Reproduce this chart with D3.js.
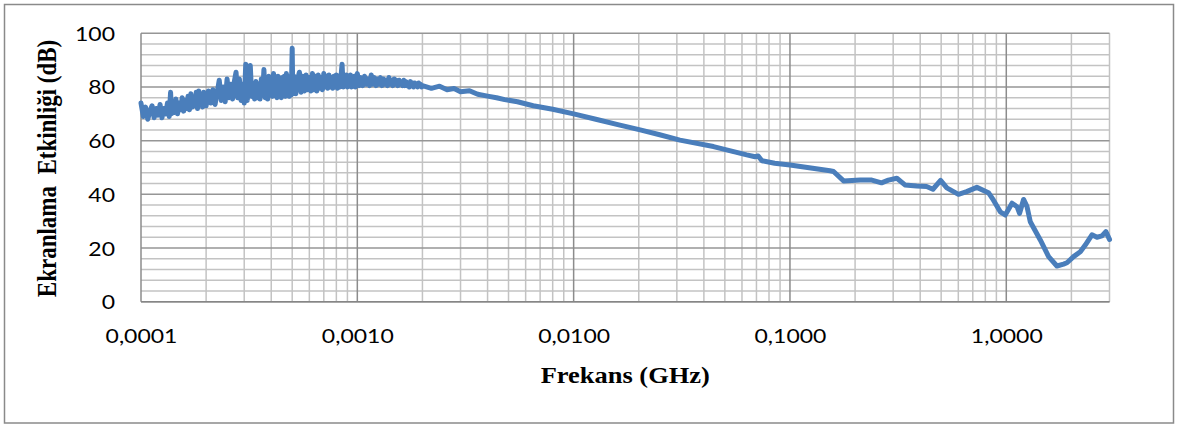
<!DOCTYPE html>
<html>
<head>
<meta charset="utf-8">
<script src="https://cdn.jsdelivr.net/npm/d3@7"></script>
<style>
  html, body { margin: 0; padding: 0; background: #fff; }
  svg { display: block; }
</style>
</head>
<body>
<svg id="chart" width="1180" height="428"></svg>
<script>
// ---------------- DATA ----------------
const freqGHz = [
  // 0.0001 - 0.0002
  1.000e-4, 1.025e-4, 1.050e-4, 1.075e-4, 1.100e-4, 1.125e-4, 1.150e-4, 1.175e-4, 1.200e-4, 1.225e-4,
  1.250e-4, 1.275e-4, 1.300e-4, 1.325e-4, 1.350e-4, 1.370e-4, 1.385e-4, 1.400e-4, 1.425e-4, 1.450e-4,
  1.475e-4, 1.500e-4, 1.525e-4, 1.550e-4, 1.575e-4, 1.600e-4, 1.625e-4, 1.650e-4, 1.675e-4, 1.700e-4,
  1.725e-4, 1.750e-4, 1.775e-4, 1.800e-4, 1.825e-4, 1.850e-4, 1.875e-4, 1.900e-4, 1.925e-4, 1.950e-4,
  // 0.0002 - 0.0005
  2.00e-4, 2.05e-4, 2.10e-4, 2.15e-4, 2.20e-4, 2.25e-4, 2.30e-4, 2.35e-4, 2.40e-4, 2.45e-4,
  2.50e-4, 2.55e-4, 2.60e-4, 2.65e-4, 2.70e-4, 2.75e-4, 2.80e-4, 2.85e-4, 2.90e-4, 2.95e-4,
  3.00e-4, 3.05e-4, 3.10e-4, 3.15e-4, 3.20e-4, 3.25e-4, 3.30e-4, 3.35e-4, 3.40e-4, 3.45e-4,
  3.50e-4, 3.55e-4, 3.60e-4, 3.65e-4, 3.70e-4, 3.75e-4, 3.80e-4, 3.85e-4, 3.90e-4, 3.95e-4,
  4.00e-4, 4.05e-4, 4.10e-4, 4.15e-4, 4.20e-4, 4.25e-4, 4.30e-4, 4.35e-4, 4.40e-4, 4.45e-4,
  4.50e-4, 4.55e-4, 4.60e-4, 4.65e-4, 4.70e-4, 4.75e-4, 4.80e-4, 4.85e-4, 4.90e-4, 4.95e-4,
  5.00e-4, 5.03e-4,
  // 0.0005 - 0.001
  5.1e-4, 5.2e-4, 5.3e-4, 5.4e-4, 5.5e-4, 5.6e-4, 5.7e-4, 5.8e-4, 5.9e-4, 6.0e-4,
  6.1e-4, 6.2e-4, 6.3e-4, 6.4e-4, 6.5e-4, 6.6e-4, 6.7e-4, 6.8e-4, 6.9e-4, 7.0e-4,
  7.1e-4, 7.2e-4, 7.3e-4, 7.4e-4, 7.5e-4, 7.6e-4, 7.7e-4, 7.8e-4, 7.9e-4, 8.0e-4,
  8.1e-4, 8.2e-4, 8.3e-4, 8.4e-4, 8.5e-4, 8.6e-4, 8.7e-4, 8.8e-4, 8.9e-4, 9.0e-4,
  9.1e-4, 9.2e-4, 9.3e-4, 9.4e-4, 9.5e-4, 9.6e-4, 9.7e-4, 9.8e-4, 9.9e-4,
  // 0.001 - 0.002
  1.00e-3, 1.02e-3, 1.04e-3, 1.06e-3, 1.08e-3, 1.10e-3, 1.12e-3, 1.14e-3, 1.16e-3, 1.18e-3,
  1.20e-3, 1.22e-3, 1.24e-3, 1.26e-3, 1.28e-3, 1.30e-3, 1.32e-3, 1.34e-3, 1.36e-3, 1.38e-3,
  1.40e-3, 1.42e-3, 1.44e-3, 1.46e-3, 1.48e-3, 1.50e-3, 1.52e-3, 1.54e-3, 1.56e-3, 1.58e-3,
  1.60e-3, 1.62e-3, 1.64e-3, 1.66e-3, 1.68e-3, 1.70e-3, 1.72e-3, 1.74e-3, 1.76e-3, 1.78e-3,
  1.80e-3, 1.82e-3, 1.84e-3, 1.86e-3, 1.88e-3, 1.90e-3, 1.92e-3, 1.94e-3, 1.96e-3, 1.98e-3,
  // 0.002 - 3 GHz
  2.0e-3, 2.2e-3, 2.4e-3, 2.6e-3, 2.8e-3, 3.0e-3, 3.3e-3, 3.6e-3, 4.0e-3, 4.4e-3,
  4.8e-3, 5.5e-3, 6.5e-3, 8.0e-3, 0.010, 0.0128, 0.016, 0.0203, 0.025, 0.031,
  0.0443, 0.0631, 0.069, 0.0713, 0.0742, 0.085, 0.1, 0.125, 0.153, 0.159,
  0.177, 0.211, 0.239, 0.265, 0.285, 0.312, 0.340, 0.385, 0.428, 0.458,
  0.497, 0.531, 0.601, 0.656, 0.731, 0.827, 0.871, 0.938, 0.989, 1.063,
  1.121, 1.152, 1.202, 1.247, 1.291, 1.436, 1.569, 1.714, 1.840, 1.908,
  2.047, 2.199, 2.318, 2.489, 2.625, 2.769, 2.886, 3.0
];
const shieldingDB = [
  // 0.0001 - 0.0002
  74, 69, 72.5, 68, 71, 73, 68.5, 72, 69.5, 73.5,
  68.5, 72, 70, 74, 69, 78, 70, 73.5, 70.5, 75.5,
  70, 74, 71.5, 76, 71, 75, 72, 76.5, 71.5, 77.5,
  72.5, 76, 73, 78, 72, 78.5, 73.5, 77, 72.5, 78,
  // 0.0002 - 0.0005
  73, 78.5, 74, 79, 73.5, 78, 82.5, 75, 80, 74.5,
  83, 76, 81, 75.5, 82, 85.5, 76, 83, 75, 81,
  74, 88.5, 75, 84, 88, 76.5, 80, 75.5, 82, 76,
  81, 75.5, 83, 77, 86.5, 76, 83, 75.5, 84, 77,
  82, 76.5, 85, 77.5, 83, 76, 84, 77, 82.5, 76,
  83.5, 77.5, 84, 76.5, 85, 77, 83, 76.5, 84, 77,
  94.4, 77.5,
  // 0.0005 - 0.001
  84, 77.5, 83, 85.5, 78, 84, 78.5, 84.5, 79, 83.5,
  78.5, 85, 79, 84, 78.5, 84.5, 79.5, 83.5, 79, 85,
  80, 84, 79.5, 84.5, 80, 83.5, 79.5, 84, 80, 84.5,
  79.5, 84, 80, 83.5, 88.5, 80, 84, 80.5, 84.5, 80,
  84, 80.5, 84.5, 80, 83.5, 80.5, 84, 80, 83.5,
  // 0.001 - 0.002
  85, 80.5, 83.5, 80.5, 84, 81, 83, 80.5, 84.5, 81,
  83.5, 80.5, 83, 81, 83.5, 80.5, 83, 81, 82.5, 80.5,
  83.5, 81, 82.5, 80.5, 83, 81, 82.5, 80.5, 82.5, 81,
  82, 80.5, 82.5, 80.5, 82, 80.5, 81.5, 80, 82, 80.5,
  81.5, 80, 81.5, 80.5, 81, 80, 81.5, 80.5, 81, 80,
  // 0.002 - 3 GHz
  80.5, 79.5, 80.3, 79, 79.4, 78.2, 78.6, 77.3, 76.6, 76.0,
  75.3, 74.5, 73.0, 71.7, 70.0, 67.9, 66.0, 64.0, 62.2, 60.2,
  57.8, 54.7, 54.0, 54.3, 52.5, 51.6, 50.9, 49.8, 48.8, 48.5,
  45.0, 45.3, 45.3, 44.3, 45.3, 46.0, 43.5, 43.1, 42.9, 41.9,
  45.2, 42.4, 40.0, 41.0, 42.6, 40.6, 37.9, 33.5, 32.3, 36.7,
  35.4, 32.9, 38.1, 35.4, 29.8, 23.0, 16.8, 13.3, 14.0, 14.5,
  16.8, 18.6, 21.1, 24.9, 24.0, 24.5, 26.1, 23.2
];
const xTickValues = [0.0001, 0.001, 0.01, 0.1, 1];
const xTickLabels = ["0,0001", "0,0010", "0,0100", "0,1000", "1,0000"];
const yTickValues = [0, 20, 40, 60, 80, 100];
const yTickLabels = ["0", "20", "40", "60", "80", "100"];
const xTitle = "Frekans (GHz)";
const yTitle = "Ekranlama\u00A0 Etkinliği (dB)";

// ---------------- LAYOUT ----------------
const W = 1180, H = 428;
const plot = { left: 141, right: 1109.5, top: 33.3, bottom: 301.7 };
const stretch = 1.15;

const svg = d3.select("#chart");
svg.append("rect").attr("x", 0).attr("y", 0).attr("width", W).attr("height", H).attr("fill", "#fff");
svg.append("rect")
  .attr("x", 4.5).attr("y", 4.5).attr("width", 1169).attr("height", 418.5)
  .attr("fill", "none").attr("stroke", "#8a8a8a").attr("stroke-width", 1.5);

const x = d3.scaleLog().domain([0.0001, 3]).range([plot.left, plot.right]);
const y = d3.scaleLinear().domain([0, 100]).range([plot.bottom, plot.top]);

// grid
const grid = svg.append("g");
const minorY = d3.range(0, 101, 4).filter(v => v % 20 !== 0);
grid.selectAll(".hmin").data(minorY).enter().append("line")
  .attr("x1", plot.left).attr("x2", plot.right)
  .attr("y1", d => y(d)).attr("y2", d => y(d))
  .attr("stroke", "#c3c3c3").attr("stroke-width", 1.5);
const minorX = x.ticks().filter(v => Math.abs(Math.log10(v) - Math.round(Math.log10(v))) > 1e-9);
grid.selectAll(".vmin").data(minorX).enter().append("line")
  .attr("x1", d => x(d)).attr("x2", d => x(d))
  .attr("y1", plot.top).attr("y2", plot.bottom)
  .attr("stroke", "#c3c3c3").attr("stroke-width", 1.5);
grid.selectAll(".hmaj").data(yTickValues).enter().append("line")
  .attr("x1", plot.left).attr("x2", plot.right)
  .attr("y1", d => y(d)).attr("y2", d => y(d))
  .attr("stroke", "#969696").attr("stroke-width", 1.5);
grid.selectAll(".vmaj").data(xTickValues).enter().append("line")
  .attr("x1", d => x(d)).attr("x2", d => x(d))
  .attr("y1", plot.top).attr("y2", plot.bottom)
  .attr("stroke", "#8c8c8c").attr("stroke-width", 1.5);
grid.append("line")
  .attr("x1", plot.left).attr("x2", plot.right)
  .attr("y1", y(0)).attr("y2", y(0))
  .attr("stroke", "#868686").attr("stroke-width", 1.5);

// axes (labels only)
const xAxis = d3.axisBottom(x).tickValues(xTickValues).tickSize(0).tickPadding(0)
  .tickFormat((d, i) => xTickLabels[i]);
const gx = svg.append("g").attr("transform", `translate(0,${plot.bottom})`).call(xAxis);
gx.select(".domain").remove();
gx.selectAll("text")
  .attr("y", 0).attr("dy", null)
  .attr("transform", `translate(0,41) scale(${stretch},1)`)
  .attr("font-family", "Lato, 'Open Sans', sans-serif").attr("font-size", 20).attr("fill", "#000");

const yAxis = d3.axisLeft(y).tickValues(yTickValues).tickSize(0).tickPadding(0)
  .tickFormat((d, i) => yTickLabels[i]);
const gy = svg.append("g").attr("transform", `translate(${plot.left},0)`).call(yAxis);
gy.select(".domain").remove();
gy.selectAll("text")
  .attr("x", 0).attr("dy", null).attr("y", 0)
  .attr("transform", `translate(-26,7) scale(${stretch},1)`)
  .attr("text-anchor", "end")
  .attr("font-family", "Lato, 'Open Sans', sans-serif").attr("font-size", 20).attr("fill", "#000");

// line
const pts = freqGHz.map((f, i) => [f, shieldingDB[i]]);
const line = d3.line().x(d => x(d[0])).y(d => y(d[1]));
svg.append("path").datum(pts)
  .attr("d", line)
  .attr("fill", "none").attr("stroke", "#4a7ebb").attr("stroke-width", 5)
  .attr("stroke-linejoin", "round").attr("stroke-linecap", "round");

// titles
svg.append("text")
  .attr("transform", `translate(${(plot.left + plot.right) / 2},383) scale(${stretch},1)`)
  .attr("text-anchor", "middle")
  .attr("font-family", "'Liberation Serif', 'Times New Roman', serif")
  .attr("font-weight", "bold").attr("font-size", 23).attr("fill", "#000")
  .text(xTitle);
svg.append("text")
  .attr("transform", `translate(56,${(plot.top + plot.bottom) / 2 + 1}) scale(${stretch},1) rotate(-90)`)
  .attr("text-anchor", "middle")
  .attr("font-family", "'Liberation Serif', 'Times New Roman', serif")
  .attr("font-weight", "bold").attr("font-size", 23).attr("fill", "#000")
  .text(yTitle);
</script>
</body>
</html>
